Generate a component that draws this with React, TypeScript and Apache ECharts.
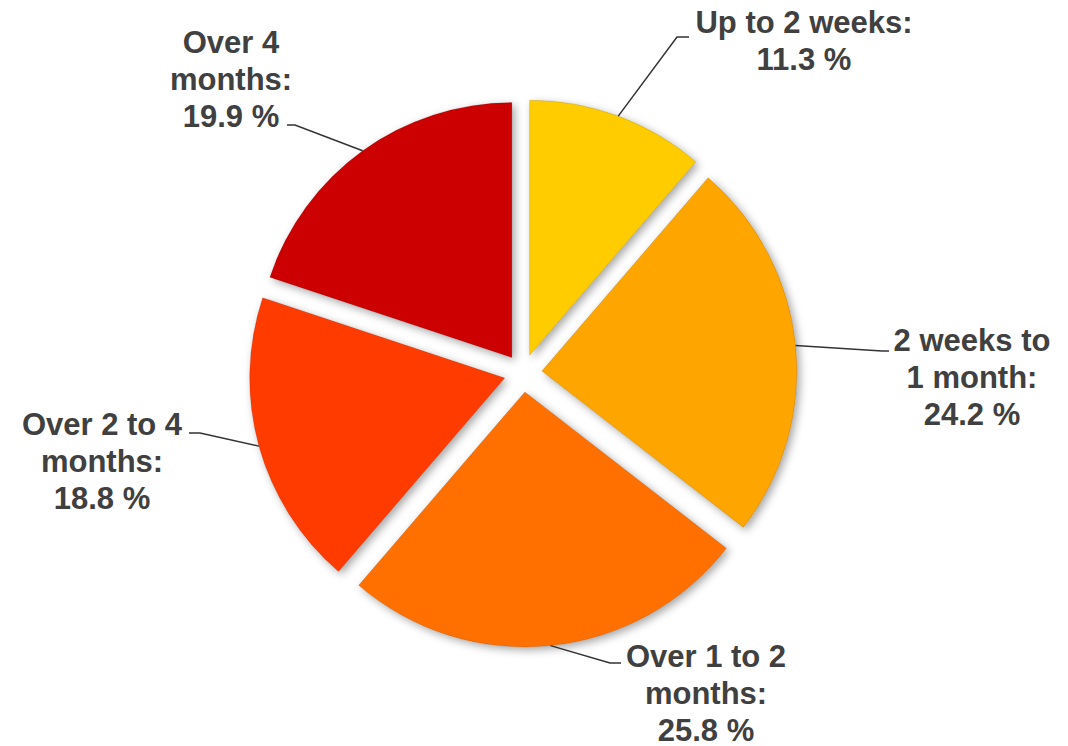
import React, { useEffect, useRef } from "react";
import * as echarts from "echarts";

const categories = [
  "Up to 2 weeks:",
  "2 weeks to\n1 month:",
  "Over 1 to 2\nmonths:",
  "Over 2 to 4\nmonths:",
  "Over 4\nmonths:",
];
const values = [11.3, 24.2, 25.8, 18.8, 19.9];
const colors = ["#FFCC00", "#FFA500", "#FF7000", "#FF3A00", "#CC0000"];

// label block centres and label-line bend points (layout, not data)
const labelCenters = [
  [804, 41],
  [972, 377],
  [706, 693],
  [102, 461],
  [231, 79],
];
const lineBends = [
  [[677, 37], [689, 37]],
  [[882, 351], [889, 351]],
  [[610, 663], [621, 663]],
  [[200, 433], [189, 433]],
  [[295, 125], [287, 125]],
];

const CENTER = [523, 373];
const RADIUS = 255;
const EXPLODE = 19;

export default function App() {
  const ref = useRef<HTMLDivElement>(null);
  useEffect(() => {
    if (!ref.current) return;
    const chart = echarts.init(ref.current, undefined, { renderer: "svg" });
    chart.setOption({
      animation: false,
      backgroundColor: "#ffffff",
      series: [
        {
          type: "pie",
          center: CENTER,
          radius: RADIUS,
          startAngle: 90,
          clockwise: true,
          selectedMode: "multiple",
          selectedOffset: EXPLODE,
          silent: true,
          z: 2,
          label: { show: false },
          labelLine: { show: false },
          data: categories.map((c, i) => ({
            name: c,
            value: values[i],
            selected: true,
            itemStyle: {
              color: colors[i],
              borderColor: "rgba(0,0,0,0.12)",
              borderWidth: 1,
              shadowBlur: 8,
              shadowOffsetX: 3,
              shadowOffsetY: 3,
              shadowColor: "rgba(0,0,0,0.35)",
            },
          })),
        },
        {
          type: "pie",
          center: CENTER,
          radius: RADIUS,
          startAngle: 90,
          clockwise: true,
          silent: true,
          z: 3,
          itemStyle: { color: "rgba(0,0,0,0)" },
          data: categories.map((c, i) => ({ name: c, value: values[i] })),
          label: {
            show: true,
            position: "outside",
            formatter: (p: any) => `${p.name}\n${p.value.toFixed(1)} %`,
            fontFamily: "'Liberation Sans', Arial, sans-serif",
            fontWeight: "bold",
            fontSize: 31,
            lineHeight: 37,
            color: "#404040",
            align: "center",
          },
          labelLine: {
            show: true,
            lineStyle: { color: "#333333", width: 1.5 },
          },
          labelLayout: (params: any) => {
            const i = params.dataIndex;
            const pts = params.labelLinePoints;
            let start = lineBends[i][0];
            if (pts && pts[0]) {
              const dx = pts[0][0] - CENTER[0];
              const dy = pts[0][1] - CENTER[1];
              const len = Math.sqrt(dx * dx + dy * dy) || 1;
              start = [pts[0][0] + (dx / len) * EXPLODE, pts[0][1] + (dy / len) * EXPLODE];
            }
            return {
              x: labelCenters[i][0],
              y: labelCenters[i][1],
              align: "center",
              verticalAlign: "middle",
              labelLinePoints: [start, lineBends[i][0], lineBends[i][1]],
            };
          },
        },
      ],
    });
    return () => chart.dispose();
  }, []);
  return (
    <div
      ref={ref}
      style={{ position: "absolute", left: 0, top: 0, width: 1068, height: 746 }}
    />
  );
}
